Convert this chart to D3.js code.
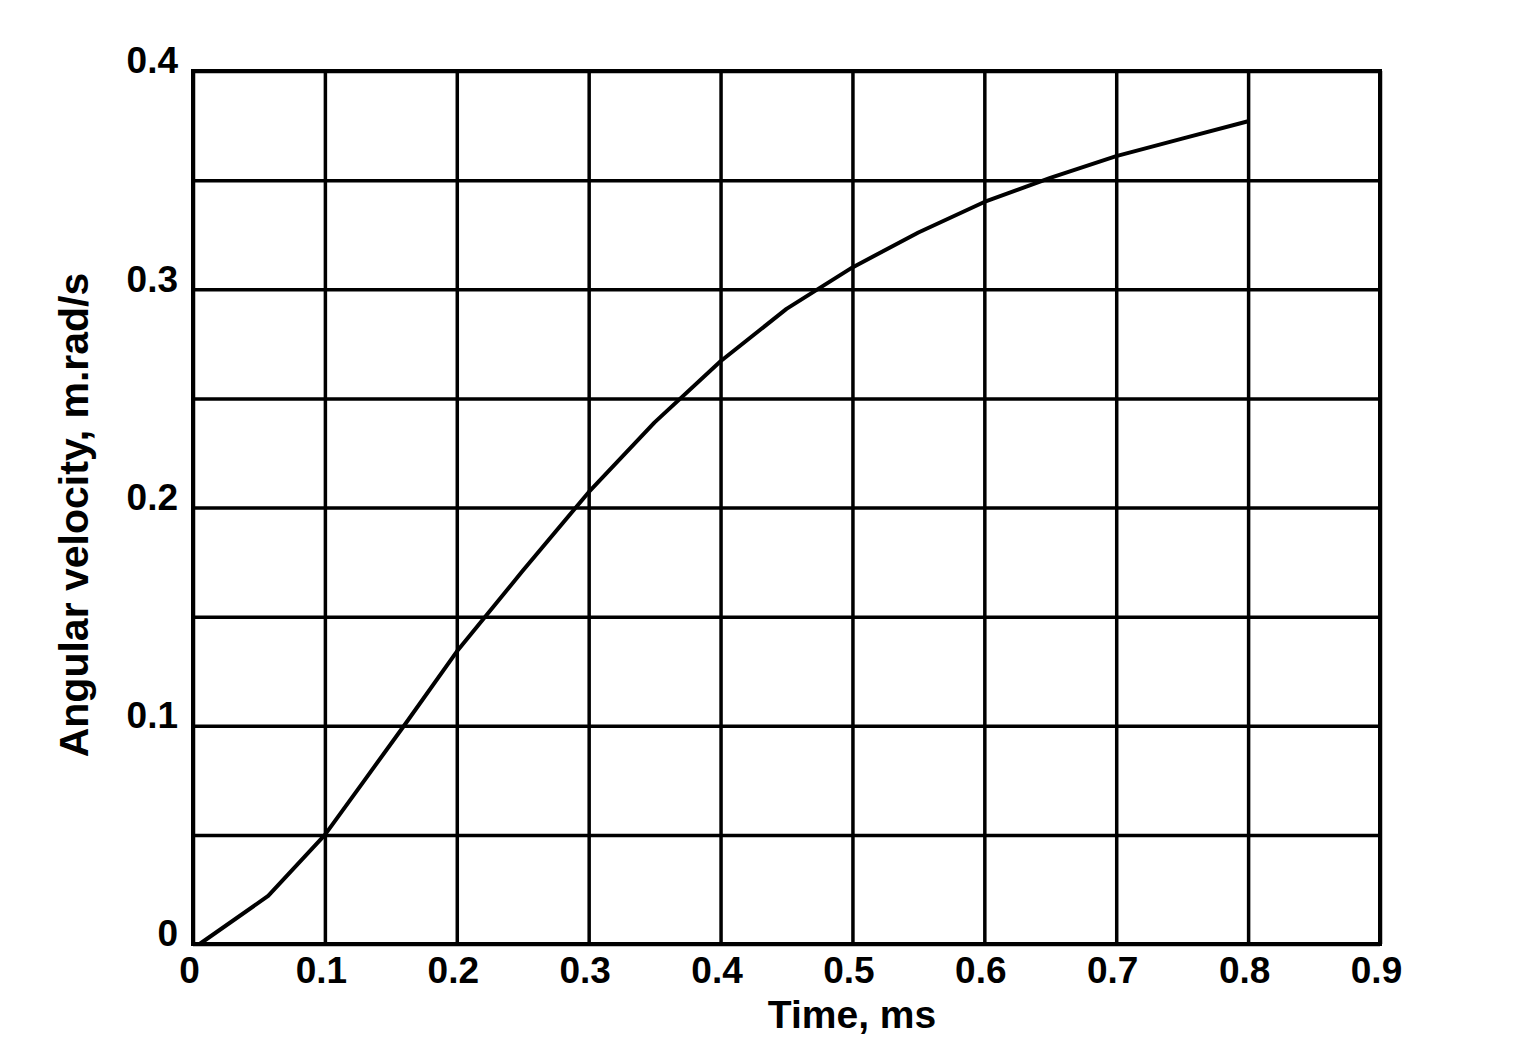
<!DOCTYPE html>
<html>
<head>
<meta charset="utf-8">
<script src="https://cdn.jsdelivr.net/npm/d3@7"></script>
<style>
  body { margin: 0; background: #fff; }
  text { font-family: Arial, "Liberation Sans", sans-serif; font-weight: bold; fill: #000; }
</style>
</head>
<body>
<script>
// Data
const time = [0.005, 0.057, 0.1, 0.13, 0.16, 0.2, 0.25, 0.3, 0.35, 0.4, 0.45, 0.5, 0.55, 0.6, 0.65, 0.7, 0.75, 0.8];
const velocity = [0, 0.022, 0.05, 0.075, 0.1, 0.134, 0.171, 0.207, 0.239, 0.267, 0.291, 0.31, 0.326, 0.34, 0.351, 0.361, 0.369, 0.377];
const xTicks = [0, 0.1, 0.2, 0.3, 0.4, 0.5, 0.6, 0.7, 0.8, 0.9];
const xTickLabels = ["0", "0.1", "0.2", "0.3", "0.4", "0.5", "0.6", "0.7", "0.8", "0.9"];
const yTicks = [0, 0.1, 0.2, 0.3, 0.4];
const yTickLabels = ["0", "0.1", "0.2", "0.3", "0.4"];
const yGrid = [0, 0.05, 0.1, 0.15, 0.2, 0.25, 0.3, 0.35, 0.4];

const W = 1529, H = 1043;
const margin = { top: 71, right: 149, bottom: 99, left: 193 },
      width = W - margin.left - margin.right,
      height = H - margin.top - margin.bottom;

const svg = d3.select("body")
              .append("svg")
              .attr("width", W)
              .attr("height", H);

const g = svg.append("g")
             .attr("transform", `translate(${margin.left},${margin.top})`);

// Scales
const x = d3.scaleLinear().domain([0, 0.9]).range([0, width]);
const y = d3.scaleLinear().domain([0, 0.4]).range([height, 0]);

// Grid
const xGridAxis = g.append("g")
   .attr("transform", `translate(0,${height})`)
   .call(d3.axisBottom(x).tickValues(xTicks).tickSize(-height).tickFormat(""));
const yGridAxis = g.append("g")
   .call(d3.axisLeft(y).tickValues(yGrid).tickSize(-width).tickFormat(""));
[xGridAxis, yGridAxis].forEach(a => {
    a.select(".domain").remove();
    a.selectAll("line").attr("stroke", "#000").attr("stroke-width", 3.5);
});

// Frame
g.append("rect")
 .attr("width", width)
 .attr("height", height)
 .attr("fill", "none")
 .attr("stroke", "#000")
 .attr("stroke-width", 4);

// Tick labels
const xAxis = g.append("g")
   .attr("transform", `translate(0,${height})`)
   .call(d3.axisBottom(x).tickValues(xTicks).tickSize(0).tickPadding(13)
           .tickFormat((d, i) => xTickLabels[i]));
xAxis.select(".domain").remove();
xAxis.selectAll("text")
     .attr("font-size", 37)
     .attr("font-family", null)
     .attr("dx", -4);

const yAxis = g.append("g")
   .call(d3.axisLeft(y).tickValues(yTicks).tickSize(0).tickPadding(15)
           .tickFormat((d, i) => yTickLabels[i]));
yAxis.select(".domain").remove();
yAxis.selectAll("text")
     .attr("font-size", 37)
     .attr("font-family", null)
     .attr("dy", "0.05em");

// Curve
const points = time.map((t, i) => [t, velocity[i]]);
g.append("path")
 .datum(points)
 .attr("fill", "none")
 .attr("stroke", "#000")
 .attr("stroke-width", 4)
 .attr("stroke-linejoin", "round")
 .attr("d", d3.line().x(d => x(d[0])).y(d => y(d[1])));

// Axis titles
svg.append("text")
   .attr("x", 852)
   .attr("y", 1028)
   .attr("text-anchor", "middle")
   .attr("font-size", 39)
   .text("Time, ms");

svg.append("text")
   .attr("transform", "translate(88,515) rotate(-90)")
   .attr("text-anchor", "middle")
   .attr("font-size", 41)
   .text("Angular velocity, m.rad/s");
</script>
</body>
</html>
